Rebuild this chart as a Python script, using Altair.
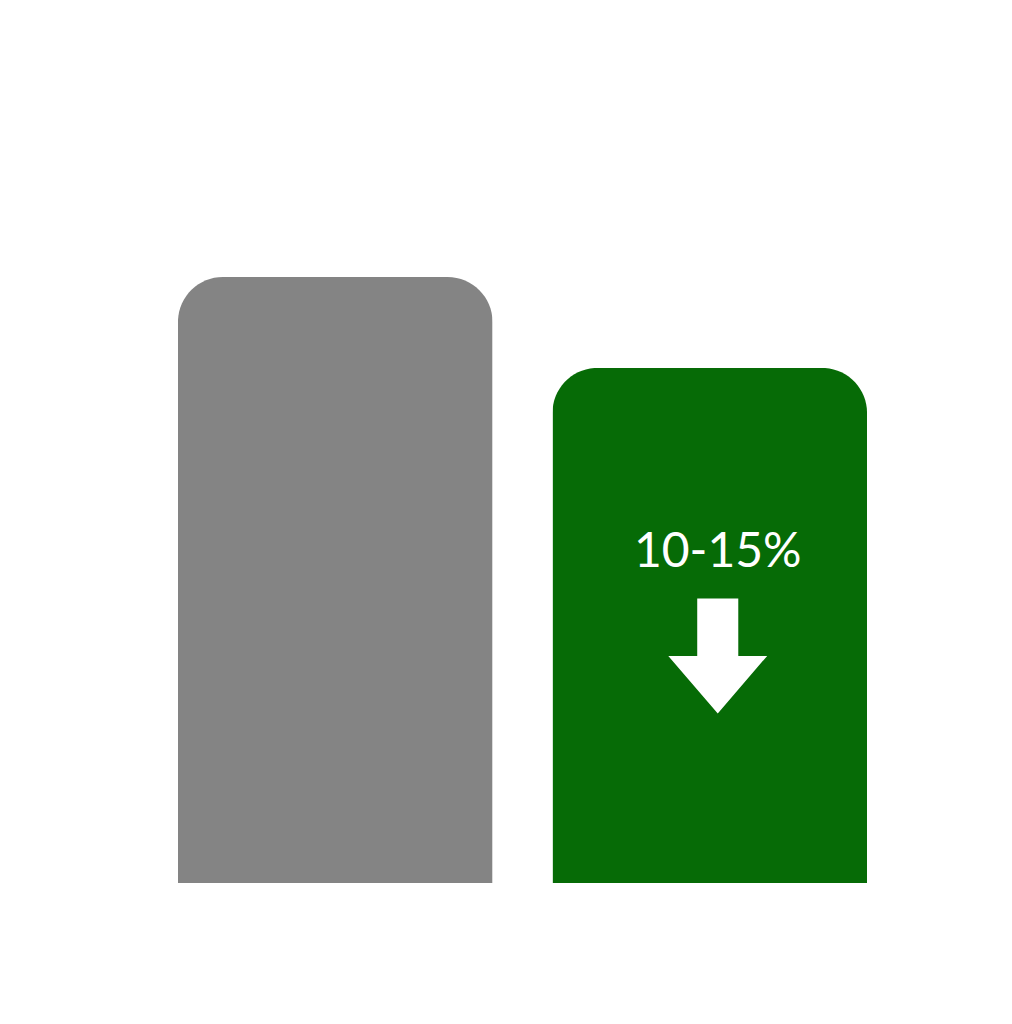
import altair as alt
import pandas as pd

# Bar values (green is ~85% of gray: a 10-15% reduction)
categories = ["Before", "After"]
values = [100, 85]
bar_colors = ["#848484", "#066b06"]
label_text = ["", "10-15%"]

df = pd.DataFrame({"cat": categories, "val": values, "label": label_text})

x = alt.X("cat:N", sort=categories, axis=None,
          scale=alt.Scale(paddingInner=0.16, paddingOuter=0.08))
y = alt.Y("val:Q", axis=None, scale=alt.Scale(domain=[0, 100], nice=False, zero=True))

bars = alt.Chart(df).mark_bar(
    cornerRadiusTopLeft=45, cornerRadiusTopRight=45
).encode(
    x=x,
    y=y,
    color=alt.Color("cat:N", scale=alt.Scale(domain=categories, range=bar_colors), legend=None),
)

green = df[df["cat"] == "After"]

label = alt.Chart(green).mark_text(
    color="white", font="Lato", fontSize=48, baseline="alphabetic", align="center",
    dy=199, dx=8
).encode(x=x, y=y, text="label:N")

arrow_path = "M -0.357 -1 L 0.357 -1 L 0.357 0 L 0.86 0 L 0 1 L -0.86 0 L -0.357 0 Z"
arrow = alt.Chart(green).mark_point(
    shape=arrow_path, filled=True, color="white", opacity=1, size=13225,
    yOffset=288, xOffset=8, strokeWidth=0
).encode(x=x, y=y)

chart = alt.layer(bars, label, arrow).properties(
    width=749, height=606,
    autosize=alt.AutoSizeParams(type="none"),
    padding={"left": 140, "top": 269, "right": 0, "bottom": 0},
    background="white",
).configure_view(stroke=None)

chart.save("out.html", embed_options={"renderer": "svg", "actions": False})
